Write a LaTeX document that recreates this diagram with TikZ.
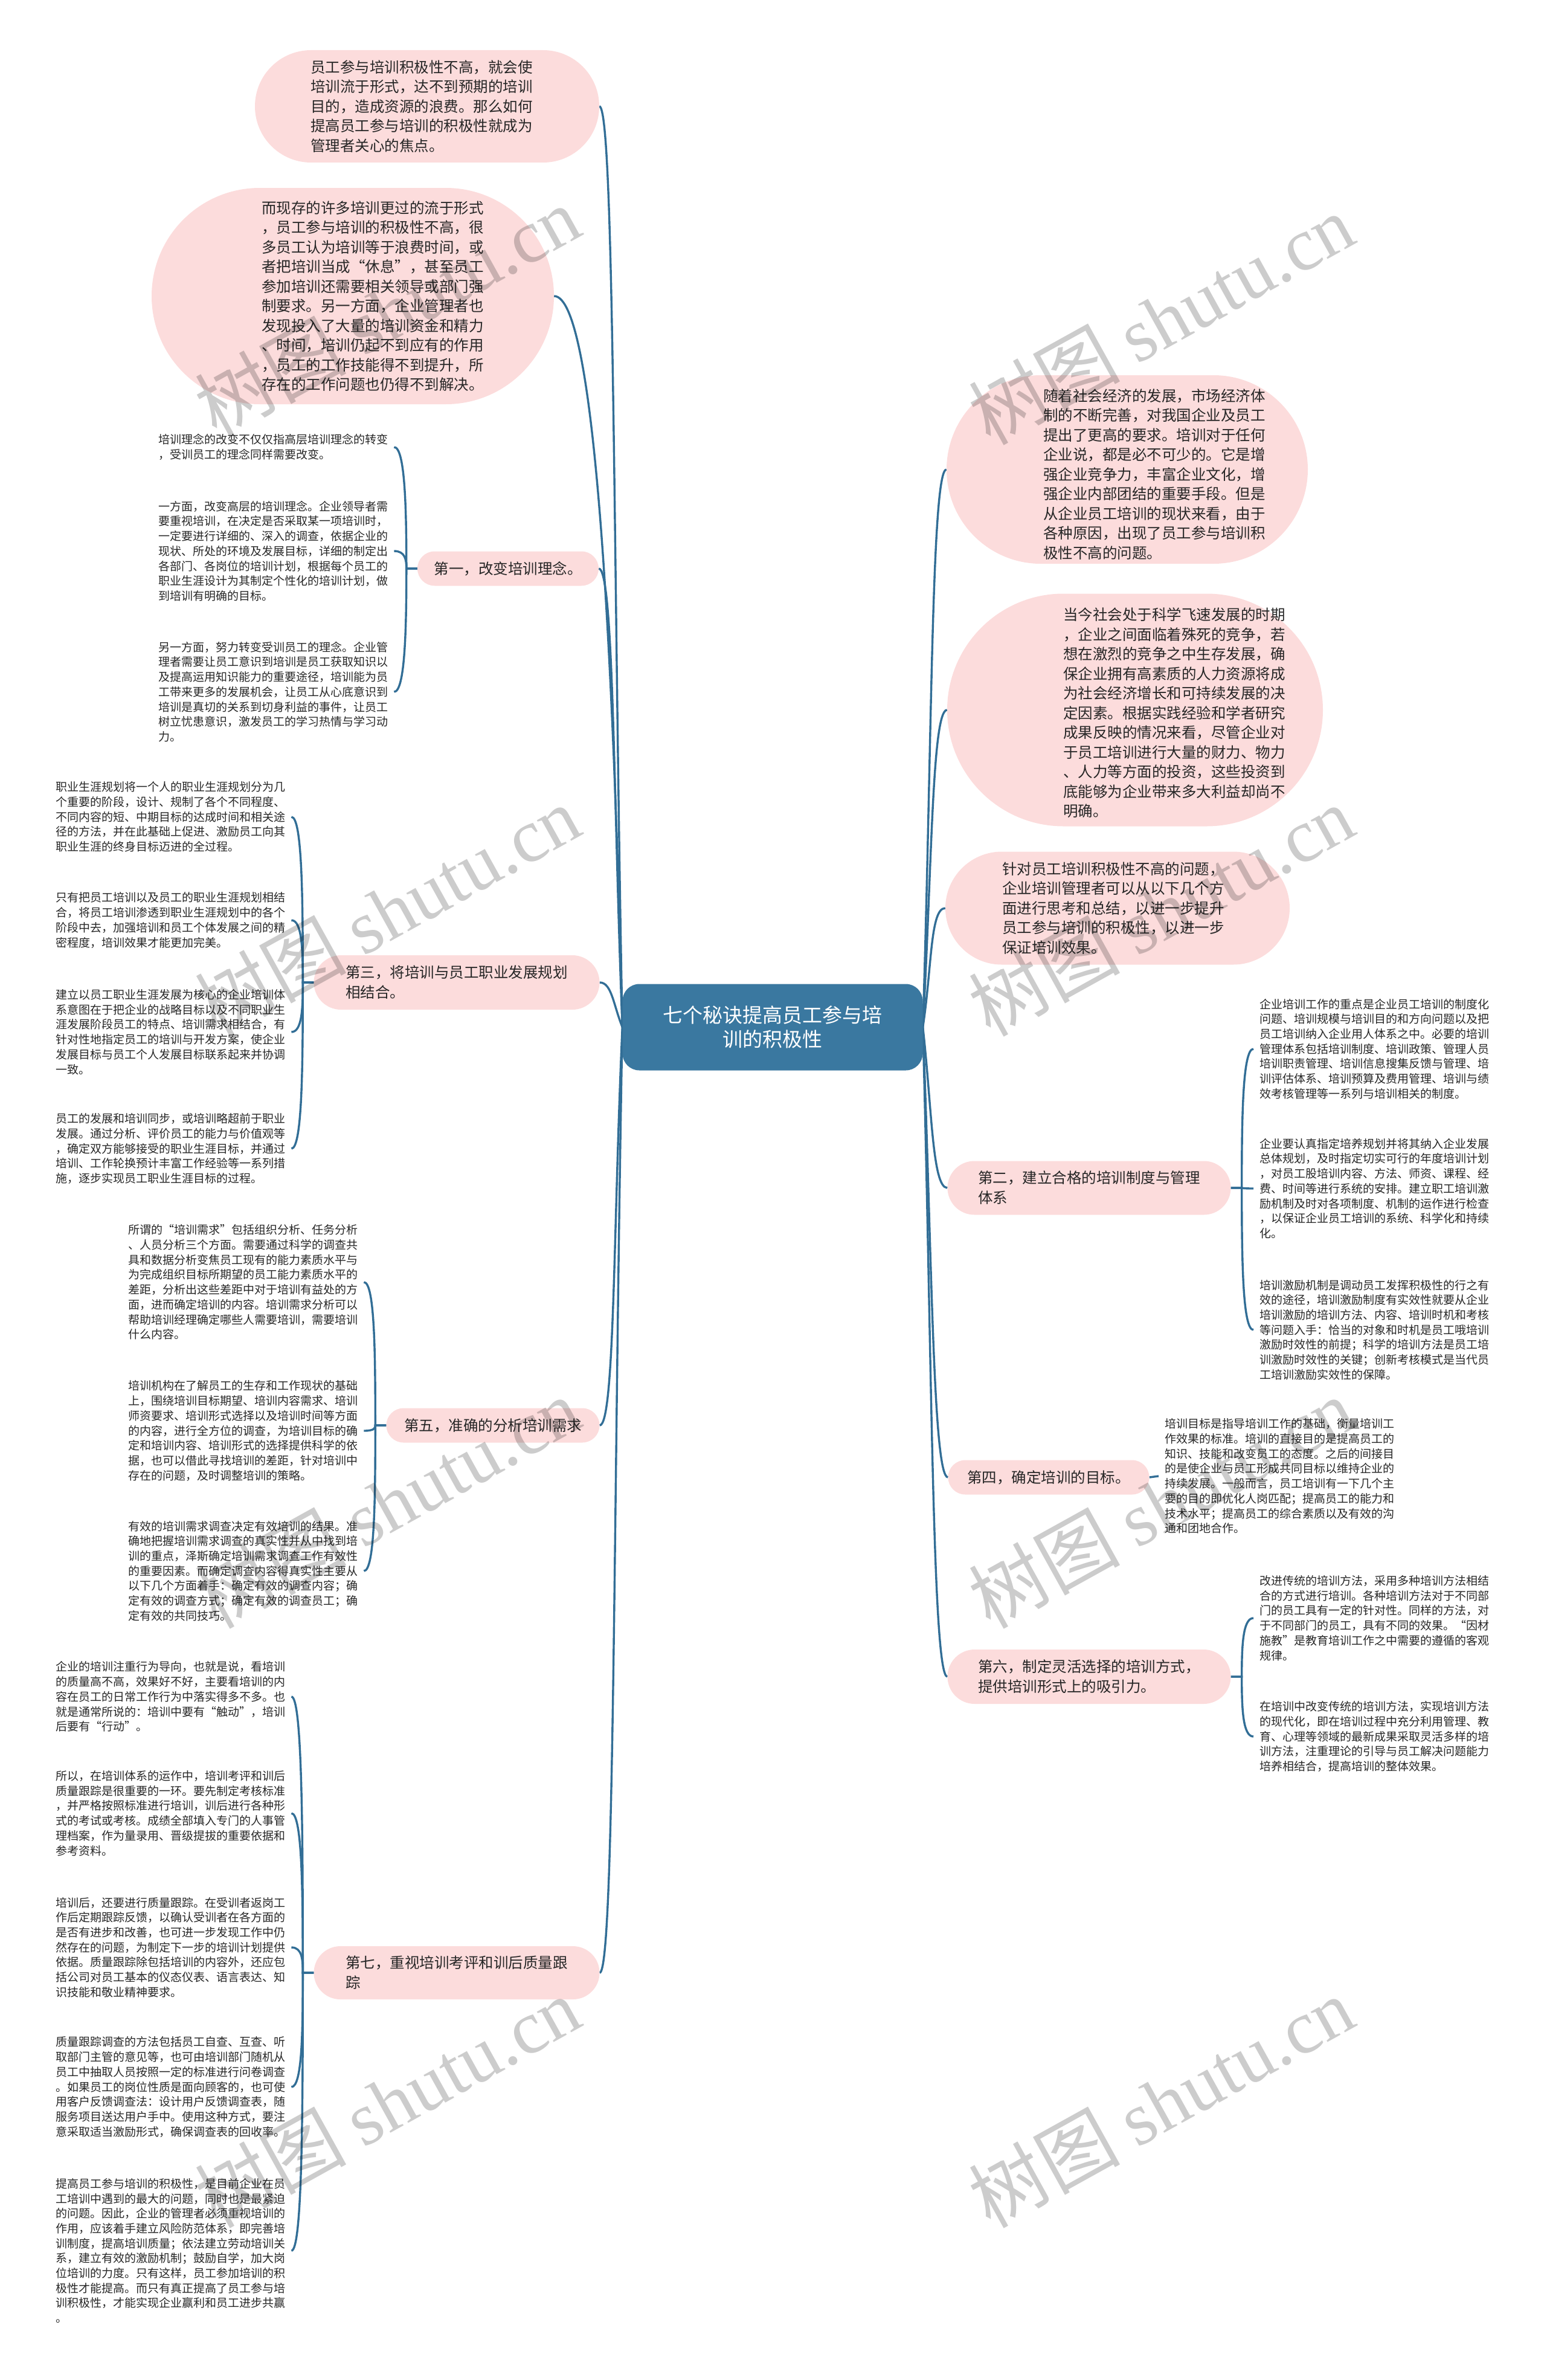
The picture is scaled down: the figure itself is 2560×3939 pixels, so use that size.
\documentclass[tikz,border=0pt]{standalone}
\usepackage{fontspec}
\setmainfont{Noto Sans CJK SC}
\newfontfamily\wmfont{Liberation Serif}
\usetikzlibrary{shapes.misc,backgrounds}

\definecolor{rootblue}{RGB}{58,120,160}
\definecolor{linkblue}{RGB}{50,110,150}
\definecolor{pinkfill}{RGB}{252,220,220}
\definecolor{textgray}{RGB}{38,38,38}

\begin{document}
\begin{tikzpicture}[
  x=1pt, y=-1pt,
  root/.style={rectangle, rounded corners=28pt, fill=rootblue, text=white, align=center, minimum width=497pt, minimum height=143pt, font=\fontsize{33}{40}\selectfont},
  bubble/.style={rounded rectangle, fill=pinkfill, inner sep=0pt},
  bubtext/.style={align=left, inner sep=0pt, text=textgray, font=\fontsize{24.5}{32.5}\selectfont},
  branch/.style={rounded rectangle, fill=pinkfill, inner sep=0pt, align=left, text=textgray, font=\fontsize{24.5}{33}\selectfont},
  leaf/.style={anchor=west, align=left, inner xsep=10pt, inner ysep=0pt, text=textgray, font=\fontsize{19}{24.7}\selectfont},
  link/.style={draw=linkblue, line width=3.4pt},
  wmark/.style={rotate=29, text=black, opacity=0.2, font=\fontsize{125}{125}\selectfont}
]
\useasboundingbox (0,0) rectangle (2560,3939);

% root
\node[root] (root) at (1279,1700) {七个秘诀提高员工参与培\\训的积极性};

% bubbles
\node[bubble, minimum width=570pt, minimum height=186pt] (nA) at (707,176) {};
\node[bubtext] (tA) at (698,176) {员工参与培训积极性不高，就会使\\培训流于形式，达不到预期的培训\\目的，造成资源的浪费。那么如何\\提高员工参与培训的积极性就成为\\管理者关心的焦点。};
\node[bubble, minimum width=666pt, minimum height=358pt] (nB) at (584,490) {};
\node[bubtext] (tB) at (617,490) {而现存的许多培训更过的流于形式\\，员工参与培训的积极性不高，很\\多员工认为培训等于浪费时间，或\\者把培训当成“休息”，甚至员工\\参加培训还需要相关领导或部门强\\制要求。另一方面，企业管理者也\\发现投入了大量的培训资金和精力\\、时间，培训仍起不到应有的作用\\，员工的工作技能得不到提升，所\\存在的工作问题也仍得不到解决。};
\node[bubble, minimum width=598pt, minimum height=312pt] (nC) at (1866,777) {};
\node[bubtext] (tC) at (1911,785) {随着社会经济的发展，市场经济体\\制的不断完善，对我国企业及员工\\提出了更高的要求。培训对于任何\\企业说，都是必不可少的。它是增\\强企业竞争力，丰富企业文化，增\\强企业内部团结的重要手段。但是\\从企业员工培训的现状来看，由于\\各种原因，出现了员工参与培训积\\极性不高的问题。};
\node[bubble, minimum width=622pt, minimum height=385pt] (nD) at (1879,1175) {};
\node[bubtext] (tD) at (1944,1180) {当今社会处于科学飞速发展的时期\\，企业之间面临着殊死的竞争，若\\想在激烈的竞争之中生存发展，确\\保企业拥有高素质的人力资源将成\\为社会经济增长和可持续发展的决\\定因素。根据实践经验和学者研究\\成果反映的情况来看，尽管企业对\\于员工培训进行大量的财力、物力\\、人力等方面的投资，这些投资到\\底能够为企业带来多大利益却尚不\\明确。};
\node[bubble, minimum width=570pt, minimum height=187pt] (nE) at (1850,1503) {};
\node[bubtext] (tE) at (1843,1503) {针对员工培训积极性不高的问题，\\企业培训管理者可以从以下几个方\\面进行思考和总结，以进一步提升\\员工参与培训的积极性，以进一步\\保证培训效果。};

% main topics
\node[branch, minimum width=300pt, minimum height=57pt] (b1) at (841,941) {第一，改变培训理念。};
\node[branch, minimum width=473pt, minimum height=90pt] (b3) at (756,1626) {第三，将培训与员工职业发展规划\\相结合。};
\node[branch, minimum width=353pt, minimum height=57pt] (b5) at (816,2359) {第五，准确的分析培训需求};
\node[branch, minimum width=473pt, minimum height=88pt] (b7) at (756,3265) {第七，重视培训考评和训后质量跟\\踪};
\node[branch, minimum width=469pt, minimum height=89pt] (b2) at (1803,1966) {第二，建立合格的培训制度与管理\\体系};
\node[branch, minimum width=333pt, minimum height=57pt] (b4) at (1736,2445) {第四，确定培训的目标。};
\node[branch, minimum width=469pt, minimum height=90pt] (b6) at (1803,2775) {第六，制定灵活选择的培训方式，\\提供培训形式上的吸引力。};

% leaves of b1
\node[leaf] (l1a) at (252,740) {培训理念的改变不仅仅指高层培训理念的转变\\，受训员工的理念同样需要改变。};
\node[leaf] (l1b) at (252,912) {一方面，改变高层的培训理念。企业领导者需\\要重视培训，在决定是否采取某一项培训时，\\一定要进行详细的、深入的调查，依据企业的\\现状、所处的环境及发展目标，详细的制定出\\各部门、各岗位的培训计划，根据每个员工的\\职业生涯设计为其制定个性化的培训计划，做\\到培训有明确的目标。};
\node[leaf] (l1c) at (252,1145) {另一方面，努力转变受训员工的理念。企业管\\理者需要让员工意识到培训是员工获取知识以\\及提高运用知识能力的重要途径，培训能为员\\工带来更多的发展机会，让员工从心底意识到\\培训是真切的关系到切身利益的事件，让员工\\树立忧患意识，激发员工的学习热情与学习动\\力。};

% leaves of b3
\node[leaf] (l3a) at (82,1352) {职业生涯规划将一个人的职业生涯规划分为几\\个重要的阶段，设计、规制了各个不同程度、\\不同内容的短、中期目标的达成时间和相关途\\径的方法，并在此基础上促进、激励员工向其\\职业生涯的终身目标迈进的全过程。};
\node[leaf] (l3b) at (82,1523) {只有把员工培训以及员工的职业生涯规划相结\\合，将员工培训渗透到职业生涯规划中的各个\\阶段中去，加强培训和员工个体发展之间的精\\密程度，培训效果才能更加完美。};
\node[leaf] (l3c) at (82,1708) {建立以员工职业生涯发展为核心的企业培训体\\系意图在于把企业的战略目标以及不同职业生\\涯发展阶段员工的特点、培训需求相结合，有\\针对性地指定员工的培训与开发方案，使企业\\发展目标与员工个人发展目标联系起来并协调\\一致。};
\node[leaf] (l3d) at (82,1901) {员工的发展和培训同步，或培训略超前于职业\\发展。通过分析、评价员工的能力与价值观等\\，确定双方能够接受的职业生涯目标，并通过\\培训、工作轮换预计丰富工作经验等一系列措\\施，逐步实现员工职业生涯目标的过程。};

% leaves of b5
\node[leaf] (l5a) at (202,2122) {所谓的“培训需求”包括组织分析、任务分析\\、人员分析三个方面。需要通过科学的调查共\\具和数据分析变焦员工现有的能力素质水平与\\为完成组织目标所期望的员工能力素质水平的\\差距，分析出这些差距中对于培训有益处的方\\面，进而确定培训的内容。培训需求分析可以\\帮助培训经理确定哪些人需要培训，需要培训\\什么内容。};
\node[leaf] (l5b) at (202,2368) {培训机构在了解员工的生存和工作现状的基础\\上，围绕培训目标期望、培训内容需求、培训\\师资要求、培训形式选择以及培训时间等方面\\的内容，进行全方位的调查，为培训目标的确\\定和培训内容、培训形式的选择提供科学的依\\据，也可以借此寻找培训的差距，针对培训中\\存在的问题，及时调整培训的策略。};
\node[leaf] (l5c) at (202,2600) {有效的培训需求调查决定有效培训的结果。准\\确地把握培训需求调查的真实性并从中找到培\\训的重点，泽斯确定培训需求调查工作有效性\\的重要因素。而确定调查内容得真实性主要从\\以下几个方面着手：确定有效的调查内容；确\\定有效的调查方式；确定有效的调查员工；确\\定有效的共同技巧。};

% leaves of b7
\node[leaf] (l7a) at (82,2808) {企业的培训注重行为导向，也就是说，看培训\\的质量高不高，效果好不好，主要看培训的内\\容在员工的日常工作行为中落实得多不多。也\\就是通常所说的：培训中要有“触动”，培训\\后要有“行动”。};
\node[leaf] (l7b) at (82,3001) {所以，在培训体系的运作中，培训考评和训后\\质量跟踪是很重要的一环。要先制定考核标准\\，并严格按照标准进行培训，训后进行各种形\\式的考试或考核。成绩全部填入专门的人事管\\理档案，作为量录用、晋级提拔的重要依据和\\参考资料。};
\node[leaf] (l7c) at (82,3223) {培训后，还要进行质量跟踪。在受训者返岗工\\作后定期跟踪反馈，以确认受训者在各方面的\\是否有进步和改善，也可进一步发现工作中仍\\然存在的问题，为制定下一步的培训计划提供\\依据。质量跟踪除包括培训的内容外，还应包\\括公司对员工基本的仪态仪表、语言表达、知\\识技能和敬业精神要求。};
\node[leaf] (l7d) at (82,3454) {质量跟踪调查的方法包括员工自查、互查、听\\取部门主管的意见等，也可由培训部门随机从\\员工中抽取人员按照一定的标准进行问卷调查\\。如果员工的岗位性质是面向顾客的，也可使\\用客户反馈调查法：设计用户反馈调查表，随\\服务项目送达用户手中。使用这种方式，要注\\意采取适当激励形式，确保调查表的回收率。};
\node[leaf] (l7e) at (82,3725) {提高员工参与培训的积极性，是目前企业在员\\工培训中遇到的最大的问题，同时也是最紧迫\\的问题。因此，企业的管理者必须重视培训的\\作用，应该着手建立风险防范体系，即完善培\\训制度，提高培训质量；依法建立劳动培训关\\系，建立有效的激励机制；鼓励自学，加大岗\\位培训的力度。只有这样，员工参加培训的积\\极性才能提高。而只有真正提高了员工参与培\\训积极性，才能实现企业赢利和员工进步共赢\\。};

% leaves of b2
\node[leaf] (l2a) at (2075,1736) {企业培训工作的重点是企业员工培训的制度化\\问题、培训规模与培训目的和方向问题以及把\\员工培训纳入企业用人体系之中。必要的培训\\管理体系包括培训制度、培训政策、管理人员\\培训职责管理、培训信息搜集反馈与管理、培\\训评估体系、培训预算及费用管理、培训与绩\\效考核管理等一系列与培训相关的制度。};
\node[leaf] (l2b) at (2075,1967) {企业要认真指定培养规划并将其纳入企业发展\\总体规划，及时指定切实可行的年度培训计划\\，对员工股培训内容、方法、师资、课程、经\\费、时间等进行系统的安排。建立职工培训激\\励机制及时对各项制度、机制的运作进行检查\\，以保证企业员工培训的系统、科学化和持续\\化。};
\node[leaf] (l2c) at (2075,2201) {培训激励机制是调动员工发挥积极性的行之有\\效的途径，培训激励制度有实效性就要从企业\\培训激励的培训方法、内容、培训时机和考核\\等问题入手：恰当的对象和时机是员工哦培训\\激励时效性的前提；科学的培训方法是员工培\\训激励时效性的关键；创新考核模式是当代员\\工培训激励实效性的保障。};

% leaf of b4
\node[leaf] (l4) at (1918,2443) {培训目标是指导培训工作的基础，衡量培训工\\作效果的标准。培训的直接目的是提高员工的\\知识、技能和改变员工的态度。之后的间接目\\的是使企业与员工形成共同目标以维持企业的\\持续发展。一般而言，员工培训有一下几个主\\要的目的即优化人岗匹配；提高员工的能力和\\技术水平；提高员工的综合素质以及有效的沟\\通和团地合作。};

% leaves of b6
\node[leaf] (l6a) at (2075,2678) {改进传统的培训方法，采用多种培训方法相结\\合的方式进行培训。各种培训方法对于不同部\\门的员工具有一定的针对性。同样的方法，对\\于不同部门的员工，具有不同的效果。“因材\\施教”是教育培训工作之中需要的遵循的客观\\规律。};
\node[leaf] (l6b) at (2075,2874) {在培训中改变传统的培训方法，实现培训方法\\的现代化，即在培训过程中充分利用管理、教\\育、心理等领域的最新成果采取灵活多样的培\\训方法，注重理论的引导与员工解决问题能力\\培养相结合，提高培训的整体效果。};

\begin{scope}[on background layer]
  % root to left topics
  \foreach \n/\d/\h in {nA/-762/25, nB/-605/70, b1/-380/25, b3/-37/20, b5/330/25, b7/783/25}
    \draw[link] (root.west) .. controls +(-15,\d) and +(\h,0) .. (\n.east);
  % root to right topics
  \foreach \n/\d in {nC/-460, nD/-262, nE/-98, b2/133, b4/372, b6/537}
    \draw[link] (root.east) .. controls +(15,\d) and +(-25,0) .. (\n.west);
  % topics to leaves
  \foreach \l/\d in {l1a/-101, l1b/-15, l1c/101}
    \draw[link] (b1.west) -- ++(-18,0) .. controls +(0,\d) and +(18,0) .. (\l.east);
  \foreach \l/\d in {l3a/-137, l3b/-51, l3c/41, l3d/137}
    \draw[link] (b3.west) -- ++(-18,0) .. controls +(0,\d) and +(18,0) .. (\l.east);
  \foreach \l/\d in {l5a/-118, l5b/4, l5c/120}
    \draw[link] (b5.west) -- ++(-18,0) .. controls +(0,\d) and +(18,0) .. (\l.east);
  \foreach \l/\d in {l7a/-228, l7b/-132, l7c/-21, l7d/95, l7e/230}
    \draw[link] (b7.west) -- ++(-18,0) .. controls +(0,\d) and +(18,0) .. (\l.east);
  \foreach \l/\d in {l2a/-115, l2b/0, l2c/117}
    \draw[link] (b2.east) -- ++(18,0) .. controls +(0,\d) and +(-18,0) .. (\l.west);
  \foreach \l/\d in {l6a/-48, l6b/50}
    \draw[link] (b6.east) -- ++(18,0) .. controls +(0,\d) and +(-18,0) .. (\l.west);
  \draw[link] (b4.east) -- (l4.west);
\end{scope}

% watermarks
\foreach \x/\y [count=\i] in {641/515, 1922/528, 641/1507, 1922/1507, 641/2487, 1922/2487, 641/3479, 1922/3479}
  \node[wmark] (wm\i) at (\x,\y) {树图 {\wmfont shutu.cn}};
\end{tikzpicture}
\end{document}
